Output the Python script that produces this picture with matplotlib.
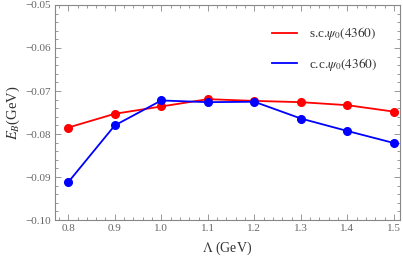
import matplotlib
matplotlib.use("Agg")
import matplotlib.pyplot as plt
from matplotlib.ticker import MultipleLocator

lam = [0.8, 0.9, 1.0, 1.1, 1.2, 1.3, 1.4, 1.5]
sc_vals = [-0.0785, -0.0753, -0.0736, -0.0719, -0.0723, -0.0726, -0.0733, -0.0748]
cc_vals = [-0.0912, -0.0780, -0.0722, -0.0726, -0.0725, -0.0764, -0.0793, -0.0821]
labels = [r"s.c.$\psi_0(4360)$", r"c.c.$\psi_0(4360)$"]

plt.rcParams['font.family'] = ['Liberation Serif', 'DejaVu Serif']
plt.rcParams['mathtext.fontset'] = 'stix'

fig = plt.figure(figsize=(4.03, 2.6), dpi=100)
ax = fig.add_axes([0.1365, 0.1538, 0.856, 0.827])

gray = '#888888'
ax.plot(lam, sc_vals, color='#ff0000', lw=1.3, marker='o', ms=5.5, label=labels[0])
ax.plot(lam, cc_vals, color='#0000ff', lw=1.3, marker='o', ms=5.5, label=labels[1])

ax.set_xlim(0.7715, 1.513)
ax.set_ylim(-0.10, -0.05)
ax.xaxis.set_major_locator(MultipleLocator(0.1))
ax.xaxis.set_minor_locator(MultipleLocator(0.02))
ax.yaxis.set_major_locator(MultipleLocator(0.01))
ax.yaxis.set_minor_locator(MultipleLocator(0.002))
ax.xaxis.set_major_formatter(matplotlib.ticker.FuncFormatter(lambda v, p: f"{v:.1f}"))
ax.yaxis.set_major_formatter(matplotlib.ticker.FuncFormatter(lambda v, p: f"\u2212{abs(v):.2f}"))

for s in ax.spines.values():
    s.set_color(gray)
    s.set_linewidth(0.8)
ax.tick_params(which='both', direction='in', top=True, right=True, colors=gray,
               labelcolor='#666666', labelsize=8, width=0.6, pad=3)
ax.tick_params(which='major', length=4)
ax.tick_params(which='minor', length=2)

ax.set_xlabel(r"$\Lambda$ (GeV)", fontsize=10, color='#333333', labelpad=5)
ax.set_ylabel(r"$E_B$(GeV)", fontsize=10.5, color='#333333', labelpad=2)

leg = ax.legend(loc='upper right', frameon=False, fontsize=9.5, handlelength=1.9,
                handletextpad=0.9, labelspacing=1.0, borderaxespad=0,
                bbox_to_anchor=(0.95, 0.93))
for h in leg.legend_handles:
    h.set_marker('')
for t in leg.get_texts():
    t.set_color('#333333')

fig.savefig('out.png', dpi=100)
